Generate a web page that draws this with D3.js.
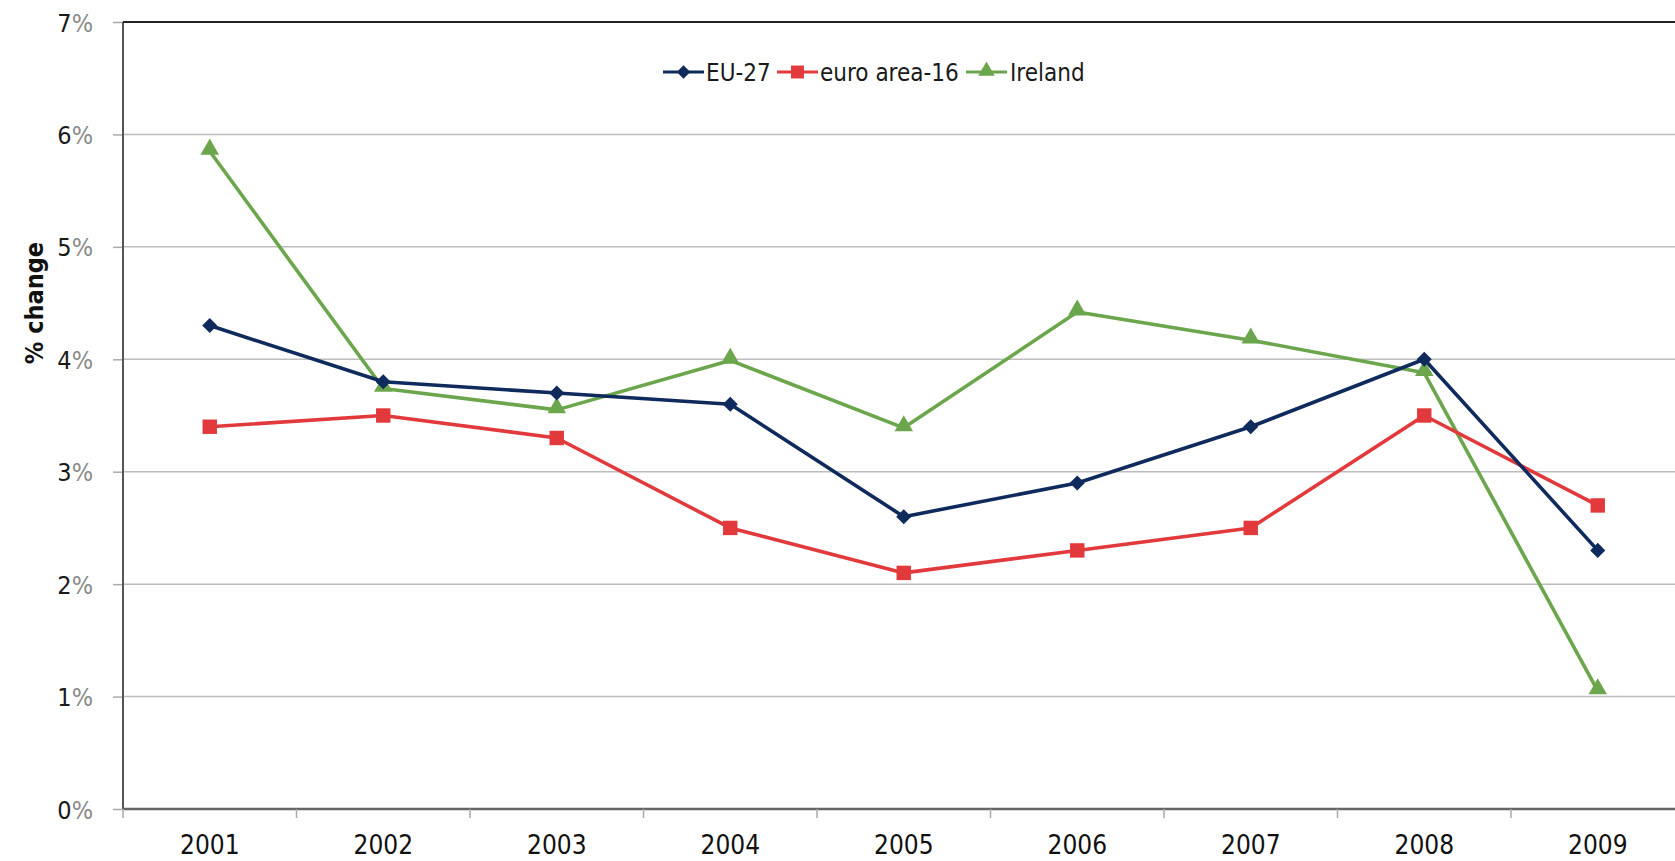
<!DOCTYPE html>
<html>
<head>
<meta charset="utf-8">
<script src="https://cdn.jsdelivr.net/npm/d3@7"></script>
<style>
  html, body { margin: 0; padding: 0; background: #fff; }
  svg { display: block; }
  text { font-family: "DejaVu Sans Condensed", "DejaVu Sans", Verdana, sans-serif; font-stretch: condensed; }
</style>
</head>
<body>
<svg id="chart" width="1675" height="861"></svg>
<script>
const years = ["2001","2002","2003","2004","2005","2006","2007","2008","2009"];
const eu27 = [4.3, 3.8, 3.7, 3.6, 2.6, 2.9, 3.4, 4.0, 2.3];
const euroArea16 = [3.4, 3.5, 3.3, 2.5, 2.1, 2.3, 2.5, 3.5, 2.7];
const ireland = [5.85, 3.74, 3.55, 3.99, 3.39, 4.42, 4.17, 3.88, 1.05];
const yTicks = [0, 1, 2, 3, 4, 5, 6, 7];
const seriesNames = ["EU-27", "euro area-16", "Ireland"];

(function () {
const colors = { "EU-27": "#0f2a5c", "euro area-16": "#e23a3c", "Ireland": "#6ca64c" };
const symbols = { "EU-27": d3.symbolDiamond2, "euro area-16": d3.symbolSquare2, "Ireland": d3.symbolTriangle2 };
const symSize = { "EU-27": 145, "euro area-16": 265, "Ireland": 245 };

const series = [
  { name: "EU-27", values: eu27 },
  { name: "euro area-16", values: euroArea16 },
  { name: "Ireland", values: ireland }
];

const svg = d3.select("#chart");
const pLeft = 123, pRight = 1684.5, pTop = 22, pBottom = 809;

const x = d3.scaleBand().domain(years).range([pLeft, pRight]).padding(0);
const y = d3.scaleLinear().domain([0, 7]).range([pBottom, pTop]);
const cx = d => x(d) + x.bandwidth() / 2;

// gridlines
svg.append("g").selectAll("line").data(yTicks.filter(t => t > 0 && t < 7)).join("line")
  .attr("x1", pLeft).attr("x2", pRight)
  .attr("y1", d => y(d)).attr("y2", d => y(d))
  .attr("stroke", "#bdbdbd").attr("stroke-width", 1.5);

// y axis
const yAxis = d3.axisLeft(y).tickValues(yTicks).tickSize(10).tickPadding(20).tickFormat(d => d);
const gy = svg.append("g").attr("transform", `translate(${pLeft},0)`).call(yAxis);
gy.select(".domain").remove();
gy.attr("font-family", null);
gy.selectAll(".tick line").attr("stroke", "#aaaaaa").attr("stroke-width", 1.5);
gy.selectAll(".tick text").each(function(d) {
  const t = d3.select(this);
  t.text(null);
  t.attr("font-size", 25).attr("fill", "#1a1a1a").attr("dy", "0.36em").attr("x", -30);
  t.append("tspan").text(d);
  t.append("tspan").attr("fill", "#8a8a8a").text("%");
});

// frame: left, top, bottom
svg.append("line").attr("x1", pLeft).attr("x2", pLeft).attr("y1", pTop).attr("y2", pBottom)
  .attr("stroke", "#555").attr("stroke-width", 2);
svg.append("line").attr("x1", pLeft).attr("x2", pRight).attr("y1", pTop).attr("y2", pTop)
  .attr("stroke", "#222").attr("stroke-width", 2);
svg.append("line").attr("x1", pLeft).attr("x2", pRight).attr("y1", pBottom).attr("y2", pBottom)
  .attr("stroke", "#666").attr("stroke-width", 2.5);

// x boundary ticks
const bounds = years.map(d => x(d)).concat([x.range()[1]]);
svg.append("g").selectAll("line").data(bounds).join("line")
  .attr("x1", d => d).attr("x2", d => d).attr("y1", pBottom).attr("y2", pBottom + 9)
  .attr("stroke", "#aaaaaa").attr("stroke-width", 1.5);

// x labels
const xAxis = d3.axisBottom(x).tickSize(0).tickPadding(0);
const gx = svg.append("g").attr("transform", `translate(0,${pBottom})`).call(xAxis);
gx.select(".domain").remove();
gx.attr("font-family", null);
gx.selectAll(".tick text").attr("font-size", 26).attr("fill", "#111")
  .attr("y", 45).attr("dy", 0);

// y axis title
svg.append("text")
  .attr("transform", `translate(43,${(y(5) + y(4)) / 2}) rotate(-90)`)
  .attr("text-anchor", "middle").attr("font-size", 25).attr("font-weight", "bold")
  .attr("fill", "#111").text("% change");

// lines
const line = d3.line().x((d, i) => cx(years[i])).y(d => y(d));
const order = ["Ireland", "euro area-16", "EU-27"];
order.forEach(name => {
  const s = series.find(s => s.name === name);
  svg.append("path").datum(s.values).attr("d", line)
    .attr("fill", "none").attr("stroke", colors[name]).attr("stroke-width", 3.6)
    .attr("stroke-linejoin", "round");
});
order.forEach(name => {
  const s = series.find(s => s.name === name);
  svg.append("g").selectAll("path").data(s.values).join("path")
    .attr("transform", (d, i) => `translate(${cx(years[i])},${y(d) + (name === "Ireland" ? -2 : 0)})`)
    .attr("d", d3.symbol().type(symbols[name]).size(symSize[name]))
    .attr("fill", colors[name]);
});

// legend
const legendItems = [
  { name: "EU-27", x1: 663, x2: 704, tx: 706 },
  { name: "euro area-16", x1: 777, x2: 818, tx: 820 },
  { name: "Ireland", x1: 966, x2: 1007, tx: 1010 }
];
const ly = 72;
const lg = svg.append("g");
legendItems.forEach(it => {
  lg.append("line").attr("x1", it.x1).attr("x2", it.x2).attr("y1", ly).attr("y2", ly)
    .attr("stroke", colors[it.name]).attr("stroke-width", 3.2);
  lg.append("path").attr("transform", `translate(${(it.x1 + it.x2) / 2},${ly + (it.name === "Ireland" ? -1 : 0)})`)
    .attr("d", d3.symbol().type(symbols[it.name]).size(symSize[it.name] * 0.8))
    .attr("fill", colors[it.name]);
  lg.append("text").attr("x", it.tx).attr("y", ly).attr("dy", "0.36em")
    .attr("font-size", 24).attr("fill", "#1a1a1a").text(it.name);
});
})();
</script>
</body>
</html>
